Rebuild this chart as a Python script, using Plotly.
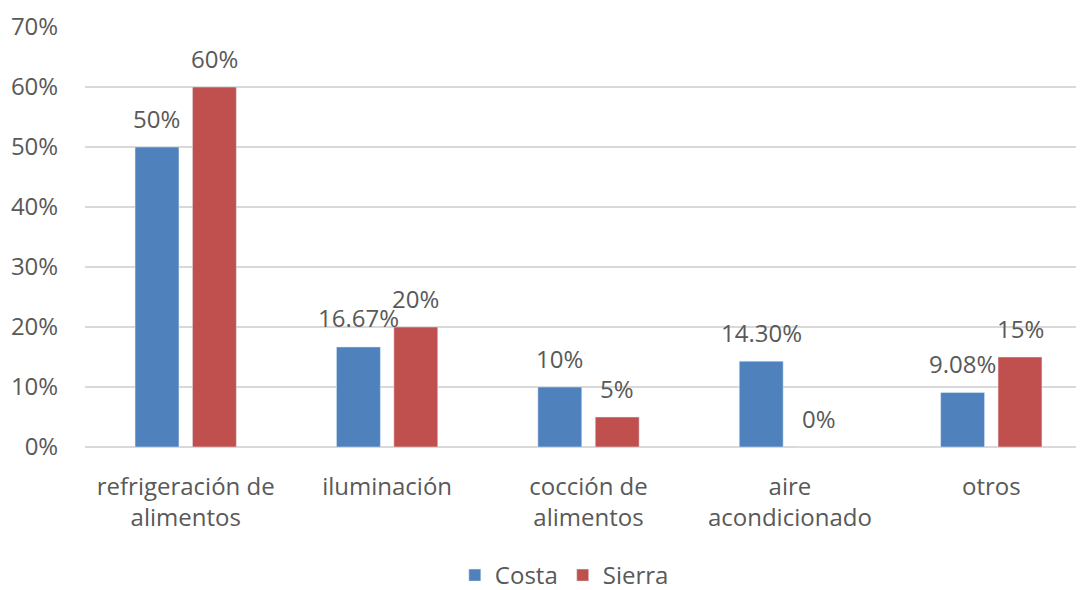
import plotly.graph_objects as go

categories = ["refrigeración de<br>alimentos", "iluminación", "cocción de<br>alimentos",
              "aire<br>acondicionado", "otros"]
costa = [0.50, 0.1667, 0.10, 0.143, 0.0908]
sierra = [0.60, 0.20, 0.05, 0.0, 0.15]
costa_labels = ["50%", "16.67%", "10%", "14.30%", "9.08%"]
sierra_labels = ["60%", "20%", "5%", "0%", "15%"]
y_ticks = [0, 0.1, 0.2, 0.3, 0.4, 0.5, 0.6, 0.7]

BLUE = "#4F81BD"
RED = "#C0504D"
TXT = "#595959"
FONT = "Open Sans"
FS = 24

fig = go.Figure()
fig.add_trace(go.Bar(x=categories, y=costa, name="Costa", marker_color=BLUE))
fig.add_trace(go.Bar(x=categories, y=sierra, name="Sierra", marker_color=RED))

# data labels, one per bar, sitting above the bar top
offset = 28.75
for cat, v, lab in zip(categories, costa, costa_labels):
    fig.add_annotation(x=cat, y=v, text=lab, showarrow=False, xshift=-offset,
                       yshift=29, yanchor="middle", font=dict(size=FS, color=TXT, family=FONT))
for cat, v, lab in zip(categories, sierra, sierra_labels):
    fig.add_annotation(x=cat, y=v, text=lab, showarrow=False, xshift=offset,
                       yshift=29, yanchor="middle", font=dict(size=FS, color=TXT, family=FONT))

# page body adds ~8px offset, so margins are a bit smaller than the picture suggests
fig.update_layout(
    width=1084, height=590,
    margin=dict(l=77, r=0, t=19, b=146),
    paper_bgcolor="white", plot_bgcolor="white",
    barmode="group", bargap=0.43, bargroupgap=0.235,
    font=dict(family=FONT, size=FS, color=TXT),
    showlegend=True,
    legend=dict(orientation="h", x=0.476, xanchor="center", y=-0.306, yanchor="middle",
                font=dict(size=FS, color=TXT), itemwidth=30),
)
fig.update_xaxes(range=[-0.5, 4.5], showgrid=False, showline=False, automargin=False,
                 ticks="outside", ticklen=18, tickcolor="rgba(0,0,0,0)")
fig.update_yaxes(range=[0, 0.7], tickvals=y_ticks, tickformat=".0%", automargin=False,
                 showgrid=True, gridcolor="#D9D9D9", gridwidth=1.5,
                 zeroline=True, zerolinecolor="#D9D9D9", zerolinewidth=1.5,
                 ticks="outside", ticklen=21, tickcolor="rgba(0,0,0,0)")

fig.write_html("out.html")
